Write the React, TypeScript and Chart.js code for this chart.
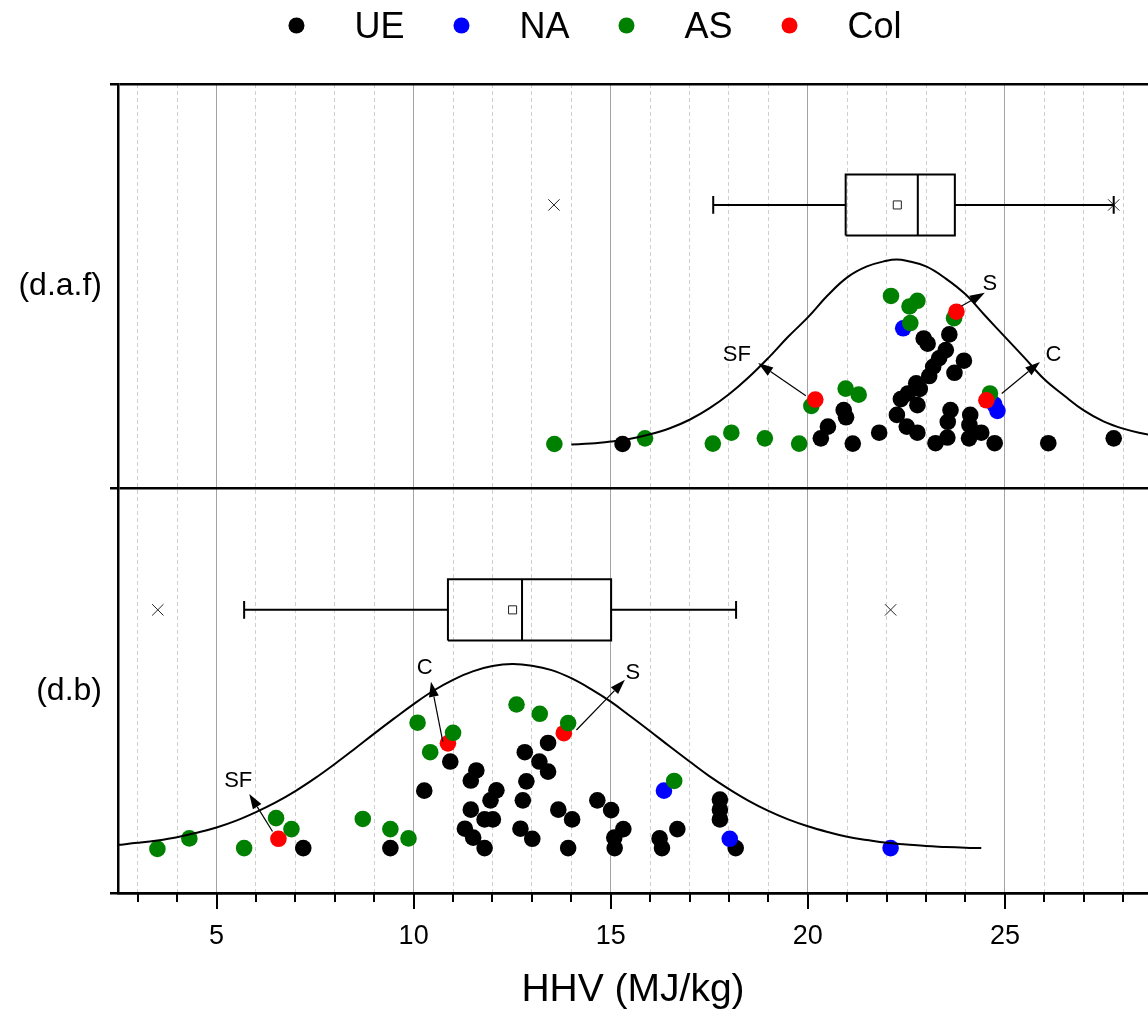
import { useEffect, useRef } from 'react';
import { Chart, registerables } from 'chart.js';

Chart.register(...registerables);

const FONT = '"Liberation Sans", Arial, Helvetica, sans-serif';

// ---- series meta ----
const seriesNames = ['UE', 'NA', 'AS', 'Col'];
const seriesColors = ['#000000', '#0000ff', '#008000', '#ff0000'];

// ---- axis ticks ----
const xTickValues = [3, 4, 5, 6, 7, 8, 9, 10, 11, 12, 13, 14, 15, 16, 17, 18, 19, 20, 21, 22, 23, 24, 25, 26, 27, 28];
const xTickLabels = [5, 10, 15, 20, 25];
const yTickValues = [0, 0.5, 1, 1.5, 2];
const yBandLines = [0, 1, 2];
const yPanelLabelValues = [0.5, 1.5];
const yPanelLabels = ['(d.b)', '(d.a.f)'];

// ---- (d.a.f) panel points: [HHV, vertical jitter] ----
const dafUE: [number, number][] = [
  [15.30, 1.110], [20.33, 1.124], [20.51, 1.153], [20.91, 1.194], [20.97, 1.176], [21.14, 1.111],
  [21.81, 1.138], [22.26, 1.182], [22.51, 1.153], [22.78, 1.138], [22.36, 1.221], [22.54, 1.235],
  [22.75, 1.260], [22.78, 1.206], [22.84, 1.246], [23.08, 1.278], [23.18, 1.301], [23.33, 1.322],
  [23.50, 1.342], [23.59, 1.381], [22.94, 1.371], [23.04, 1.358], [23.96, 1.316], [23.72, 1.286],
  [23.24, 1.112], [23.54, 1.126], [23.62, 1.194], [23.55, 1.165], [24.12, 1.182], [24.10, 1.157],
  [24.40, 1.138], [24.09, 1.124], [24.74, 1.112], [26.10, 1.112], [27.76, 1.124],
];
const dafNA: [number, number][] = [[22.42, 1.396], [24.73, 1.208], [24.81, 1.192]];
const dafAS: [number, number][] = [
  [13.57, 1.110], [15.87, 1.124], [17.59, 1.111], [18.06, 1.138], [18.91, 1.124], [19.78, 1.111],
  [20.09, 1.204], [20.96, 1.247], [21.29, 1.232], [22.11, 1.476], [22.78, 1.464], [22.58, 1.450],
  [22.60, 1.409], [23.71, 1.421], [24.62, 1.235],
];
const dafCol: [number, number][] = [[20.19, 1.220], [23.77, 1.437], [24.53, 1.218]];

// ---- (d.b) panel points ----
const dbUE: [number, number][] = [
  [7.20, 0.111], [9.41, 0.111], [10.27, 0.253], [10.93, 0.325], [11.59, 0.303], [11.45, 0.278],
  [11.45, 0.206], [11.30, 0.159], [11.51, 0.137], [11.80, 0.111], [12.10, 0.254], [11.95, 0.229],
  [11.80, 0.182], [12.01, 0.182], [13.41, 0.371], [12.82, 0.348], [13.19, 0.325], [13.41, 0.300],
  [12.86, 0.276], [12.77, 0.229], [12.71, 0.159], [13.01, 0.134], [13.67, 0.206], [14.02, 0.182],
  [13.92, 0.111], [14.66, 0.229], [15.01, 0.205], [15.32, 0.158], [15.09, 0.137], [15.10, 0.111],
  [16.69, 0.158], [16.24, 0.135], [16.30, 0.111], [17.77, 0.231], [17.77, 0.206], [17.77, 0.182],
  [18.17, 0.111],
];
const dbNA: [number, number][] = [[16.35, 0.253], [18.02, 0.134], [22.10, 0.111]];
const dbAS: [number, number][] = [
  [3.50, 0.109], [4.31, 0.135], [5.70, 0.111], [6.51, 0.185], [6.90, 0.158], [8.71, 0.183],
  [9.41, 0.158], [9.87, 0.135], [10.10, 0.421], [10.42, 0.348], [11.00, 0.396], [12.61, 0.466],
  [13.20, 0.443], [13.92, 0.420], [16.61, 0.277],
];
const dbCol: [number, number][] = [[6.57, 0.134], [10.87, 0.370], [13.81, 0.395]];

// ---- fitted distribution curves ----
const dafCurveX = [14, 14.5, 15, 15.5, 16, 16.5, 17, 17.5, 18, 18.5, 19, 19.5, 20, 20.5, 21, 21.5, 22, 22.25, 22.5, 23, 23.5, 24, 24.5, 25, 25.5, 26, 26.5, 27, 27.5, 28, 28.5, 29];
const dafCurveY = [1.109, 1.111, 1.116, 1.123, 1.134, 1.149, 1.170, 1.198, 1.233, 1.275, 1.323, 1.375, 1.423, 1.477, 1.522, 1.549, 1.563, 1.566, 1.563, 1.549, 1.519, 1.480, 1.427, 1.375, 1.323, 1.270, 1.230, 1.193, 1.166, 1.148, 1.136, 1.127];
const dbCurveX = [2.5, 3, 3.5, 4, 4.5, 5, 5.5, 6, 6.5, 7, 7.5, 8, 8.5, 9, 9.5, 10, 10.5, 11, 11.5, 12, 12.5, 13, 13.5, 14, 14.5, 15, 15.5, 16, 16.5, 17, 17.5, 18, 18.5, 19, 19.5, 20, 20.5, 21, 21.5, 22, 22.5, 23, 23.5, 24, 24.4];
const dbCurveY = [0.119, 0.124, 0.130, 0.138, 0.149, 0.162, 0.179, 0.200, 0.224, 0.252, 0.284, 0.319, 0.356, 0.394, 0.431, 0.467, 0.500, 0.527, 0.548, 0.561, 0.566, 0.562, 0.551, 0.531, 0.504, 0.473, 0.437, 0.400, 0.362, 0.325, 0.289, 0.257, 0.228, 0.203, 0.182, 0.165, 0.151, 0.139, 0.131, 0.124, 0.120, 0.116, 0.114, 0.112, 0.111];

// ---- box plot stats: [whisker low, Q1, median, Q3, whisker high] ----
const dafBox = [17.60, 20.96, 22.79, 23.73, 27.76];
const dafMean = 22.27;
const dafExtremes = [13.56, 27.76];
const dbBox = [5.70, 10.87, 12.75, 15.01, 18.18];
const dbMean = 12.51;
const dbExtremes = [3.51, 22.10];

// ---- annotations ----
const arrowLabels = ['SF', 'S', 'C', 'SF', 'C', 'S'];
const arrowFrom: [number, number][] = [[19.95, 1.229], [23.90, 1.451], [24.92, 1.235], [6.42, 0.152], [10.74, 0.374], [14.13, 0.403]];
const arrowTo: [number, number][] = [[18.74, 1.310], [24.49, 1.484], [25.89, 1.313], [5.83, 0.245], [10.44, 0.522], [15.36, 0.527]];
const arrowText: [number, number][] = [[18.20, 1.330], [24.62, 1.505], [26.23, 1.330], [5.55, 0.277], [10.28, 0.556], [15.56, 0.544]];

// layout constants (data units on the vertical axis)
const DAF_ROW = 1.701;
const DB_ROW = 0.700;
const BOX_HALF = 0.0755;
const CAP_HALF = 0.022;

const toXY = (arr: [number, number][]) => arr.map(([x, y]) => ({ x, y }));

function boxSegments(stats: number[], yc: number) {
  const [lo, q1, med, q3, hi] = stats;
  const h = BOX_HALF;
  const c = CAP_HALF;
  const gap = (x: number) => ({ x, y: null as any });
  return [
    { x: q1, y: yc - h }, { x: q3, y: yc - h }, { x: q3, y: yc + h }, { x: q1, y: yc + h }, { x: q1, y: yc - h }, gap(q1),
    { x: med, y: yc - h }, { x: med, y: yc + h }, gap(med),
    { x: lo, y: yc }, { x: q1, y: yc }, gap(q1),
    { x: q3, y: yc }, { x: hi, y: yc }, gap(hi),
    { x: lo, y: yc - c }, { x: lo, y: yc + c }, gap(lo),
    { x: hi, y: yc - c }, { x: hi, y: yc + c },
  ];
}

const dots = (label: string, data: [number, number][], color: string, order: number) => ({
  type: 'scatter' as const,
  label,
  data: toXY(data),
  backgroundColor: color,
  borderColor: color,
  borderWidth: 0,
  pointRadius: 8.3,
  pointHoverRadius: 8.3,
  order,
});

const lineSet = (label: string, data: any[], width: number, order: number, smooth: boolean) => ({
  type: 'scatter' as const,
  label,
  data,
  showLine: true,
  borderColor: '#000',
  backgroundColor: '#000',
  borderWidth: width,
  pointRadius: 0,
  pointHoverRadius: 0,
  fill: false,
  spanGaps: false,
  tension: smooth ? 0.4 : 0,
  borderJoinStyle: 'miter' as const,
  order,
});

const markers = (label: string, data: { x: number; y: number }[], style: string, radius: number, order: number) => ({
  type: 'scatter' as const,
  label,
  data,
  pointStyle: style,
  pointRadius: radius,
  pointHoverRadius: radius,
  borderColor: '#222',
  backgroundColor: 'rgba(0,0,0,0)',
  borderWidth: 1,
  order,
});

const overlayPlugin = {
  id: 'overlay',
  afterDatasetsDraw(chart: any) {
    const { ctx, scales } = chart;
    const xs = scales.x;
    const ys = scales.y;
    ctx.save();
    ctx.fillStyle = '#000';
    ctx.strokeStyle = '#000';
    ctx.font = `22px ${FONT}`;
    ctx.textAlign = 'center';
    ctx.textBaseline = 'middle';
    arrowLabels.forEach((lab, i) => {
      const x1 = xs.getPixelForValue(arrowFrom[i][0]);
      const y1 = ys.getPixelForValue(arrowFrom[i][1]);
      const x2 = xs.getPixelForValue(arrowTo[i][0]);
      const y2 = ys.getPixelForValue(arrowTo[i][1]);
      const ang = Math.atan2(y2 - y1, x2 - x1);
      const headLen = 15;
      const headW = 5;
      const bx = x2 - headLen * Math.cos(ang);
      const by = y2 - headLen * Math.sin(ang);
      ctx.lineWidth = 1.2;
      ctx.beginPath();
      ctx.moveTo(x1, y1);
      ctx.lineTo(bx, by);
      ctx.stroke();
      ctx.beginPath();
      ctx.moveTo(x2, y2);
      ctx.lineTo(bx + headW * Math.sin(ang), by - headW * Math.cos(ang));
      ctx.lineTo(bx - headW * Math.sin(ang), by + headW * Math.cos(ang));
      ctx.closePath();
      ctx.fill();
      ctx.fillText(lab, xs.getPixelForValue(arrowText[i][0]), ys.getPixelForValue(arrowText[i][1]));
    });
    ctx.restore();
  },
  afterDraw(chart: any) {
    const { ctx, chartArea, scales } = chart;
    const xs = scales.x;
    ctx.save();
    // x ticks: long at labelled values, short otherwise
    ctx.strokeStyle = '#000';
    ctx.lineWidth = 2;
    xTickValues.forEach((v) => {
      const px = Math.round(xs.getPixelForValue(v));
      const len = xTickLabels.includes(v) ? 16 : 9;
      ctx.beginPath();
      ctx.moveTo(px, chartArea.bottom);
      ctx.lineTo(px, chartArea.bottom + len);
      ctx.stroke();
    });
    // legend
    ctx.font = `36px ${FONT}`;
    ctx.textBaseline = 'alphabetic';
    ctx.textAlign = 'left';
    const dotToText = 58;
    const textToDot = 57;
    const widths = seriesNames.map((n) => ctx.measureText(n).width);
    const total = widths.reduce((s, w) => s + w + dotToText, 0) + textToDot * (seriesNames.length - 1);
    let cx = 599 - total / 2;
    const dotY = 25.5;
    const baseY = 38;
    seriesNames.forEach((n, i) => {
      ctx.fillStyle = seriesColors[i];
      ctx.beginPath();
      ctx.arc(cx, dotY, 8, 0, Math.PI * 2);
      ctx.fill();
      ctx.fillStyle = '#000';
      ctx.fillText(n, cx + dotToText, baseY);
      cx += dotToText + widths[i] + textToDot;
    });
    ctx.restore();
  },
};

export default function App() {
  const ref = useRef<HTMLCanvasElement | null>(null);
  useEffect(() => {
    if (!ref.current) return;
    Chart.defaults.font.family = FONT;
    const isMajor = (v: number) => xTickLabels.includes(v);
    const chart = new Chart(ref.current, {
      type: 'scatter',
      data: {
        datasets: [
          lineSet('daf curve', dafCurveX.map((x, i) => ({ x, y: dafCurveY[i] })), 2, 0, true),
          lineSet('db curve', dbCurveX.map((x, i) => ({ x, y: dbCurveY[i] })), 2, 0, true),
          lineSet('daf box', boxSegments(dafBox, DAF_ROW), 2, 1, false),
          lineSet('db box', boxSegments(dbBox, DB_ROW), 2, 1, false),
          markers('daf mean', [{ x: dafMean, y: DAF_ROW }], 'rect', 5.7, 1),
          markers('db mean', [{ x: dbMean, y: DB_ROW }], 'rect', 5.7, 1),
          markers('daf extremes', dafExtremes.map((x) => ({ x, y: DAF_ROW })), 'crossRot', 8, 1),
          markers('db extremes', dbExtremes.map((x) => ({ x, y: DB_ROW })), 'crossRot', 8, 1),
          dots('daf ' + seriesNames[3], dafCol, seriesColors[3], 2),
          dots('daf ' + seriesNames[2], dafAS, seriesColors[2], 3),
          dots('daf ' + seriesNames[1], dafNA, seriesColors[1], 4),
          dots('daf ' + seriesNames[0], dafUE, seriesColors[0], 5),
          dots('db ' + seriesNames[2], dbAS, seriesColors[2], 2),
          dots('db ' + seriesNames[3], dbCol, seriesColors[3], 3),
          dots('db ' + seriesNames[1], dbNA, seriesColors[1], 4),
          dots('db ' + seriesNames[0], dbUE, seriesColors[0], 5),
        ] as any,
      },
      options: {
        animation: false,
        responsive: true,
        maintainAspectRatio: false,
        events: [],
        layout: { autoPadding: false, padding: { top: 84, right: 0, left: 0, bottom: 0 } },
        plugins: { legend: { display: false }, tooltip: { enabled: false }, title: { display: false } },
        scales: {
          x: {
            type: 'linear',
            min: 2.5,
            max: 28.63,
            afterFit(s: any) { s.height = 121; s.paddingRight = 0; s.paddingLeft = 0; },
            afterBuildTicks(s: any) { s.ticks = xTickValues.map((value) => ({ value })); },
            ticks: {
              autoSkip: false,
              maxRotation: 0,
              padding: 11,
              color: '#000',
              font: { size: 27, family: FONT },
              callback: (v: any) => (isMajor(Number(v)) ? String(v) : ''),
            },
            grid: {
              color: (c: any) => (c.tick && isMajor(c.tick.value) ? '#a3a3a3' : '#cfcfcf'),
              lineWidth: 1,
              drawTicks: true,
              tickLength: 16,
              tickColor: 'rgba(0,0,0,0)',
            },
            border: {
              display: true,
              color: '#000',
              width: 2.5,
              dash: (c: any) => (c.tick && !isMajor(c.tick.value) ? [4, 3] : []),
            },
            title: {
              display: true,
              text: 'HHV (MJ/kg)',
              color: '#000',
              font: { size: 39, family: FONT },
              padding: { top: 0, bottom: 0 },
            },
          } as any,
          y: {
            type: 'linear',
            min: 0,
            max: 2,
            afterFit(s: any) { s.width = 118; s.paddingTop = 0; s.paddingBottom = 0; },
            afterBuildTicks(s: any) { s.ticks = yTickValues.map((value) => ({ value })); },
            ticks: {
              autoSkip: false,
              padding: 8,
              color: '#000',
              font: { size: 32, family: FONT },
              callback: (v: any) => {
                const i = yPanelLabelValues.indexOf(Number(v));
                return i >= 0 ? yPanelLabels[i] : '';
              },
            },
            grid: {
              color: (c: any) => (c.tick && yBandLines.includes(c.tick.value) ? '#000' : 'rgba(0,0,0,0)'),
              lineWidth: 2.5,
              drawTicks: true,
              tickLength: 8,
              tickWidth: 2.5,
              tickColor: (c: any) => (c.tick && yBandLines.includes(c.tick.value) ? '#000' : 'rgba(0,0,0,0)'),
            },
            border: { display: true, color: '#000', width: 2.5 },
          } as any,
        },
      },
      plugins: [overlayPlugin],
    });
    return () => chart.destroy();
  }, []);
  return (
    <div style={{ position: 'absolute', left: 0, top: 0, width: 1148, height: 1014, background: '#fff' }}>
      <canvas ref={ref} />
    </div>
  );
}
